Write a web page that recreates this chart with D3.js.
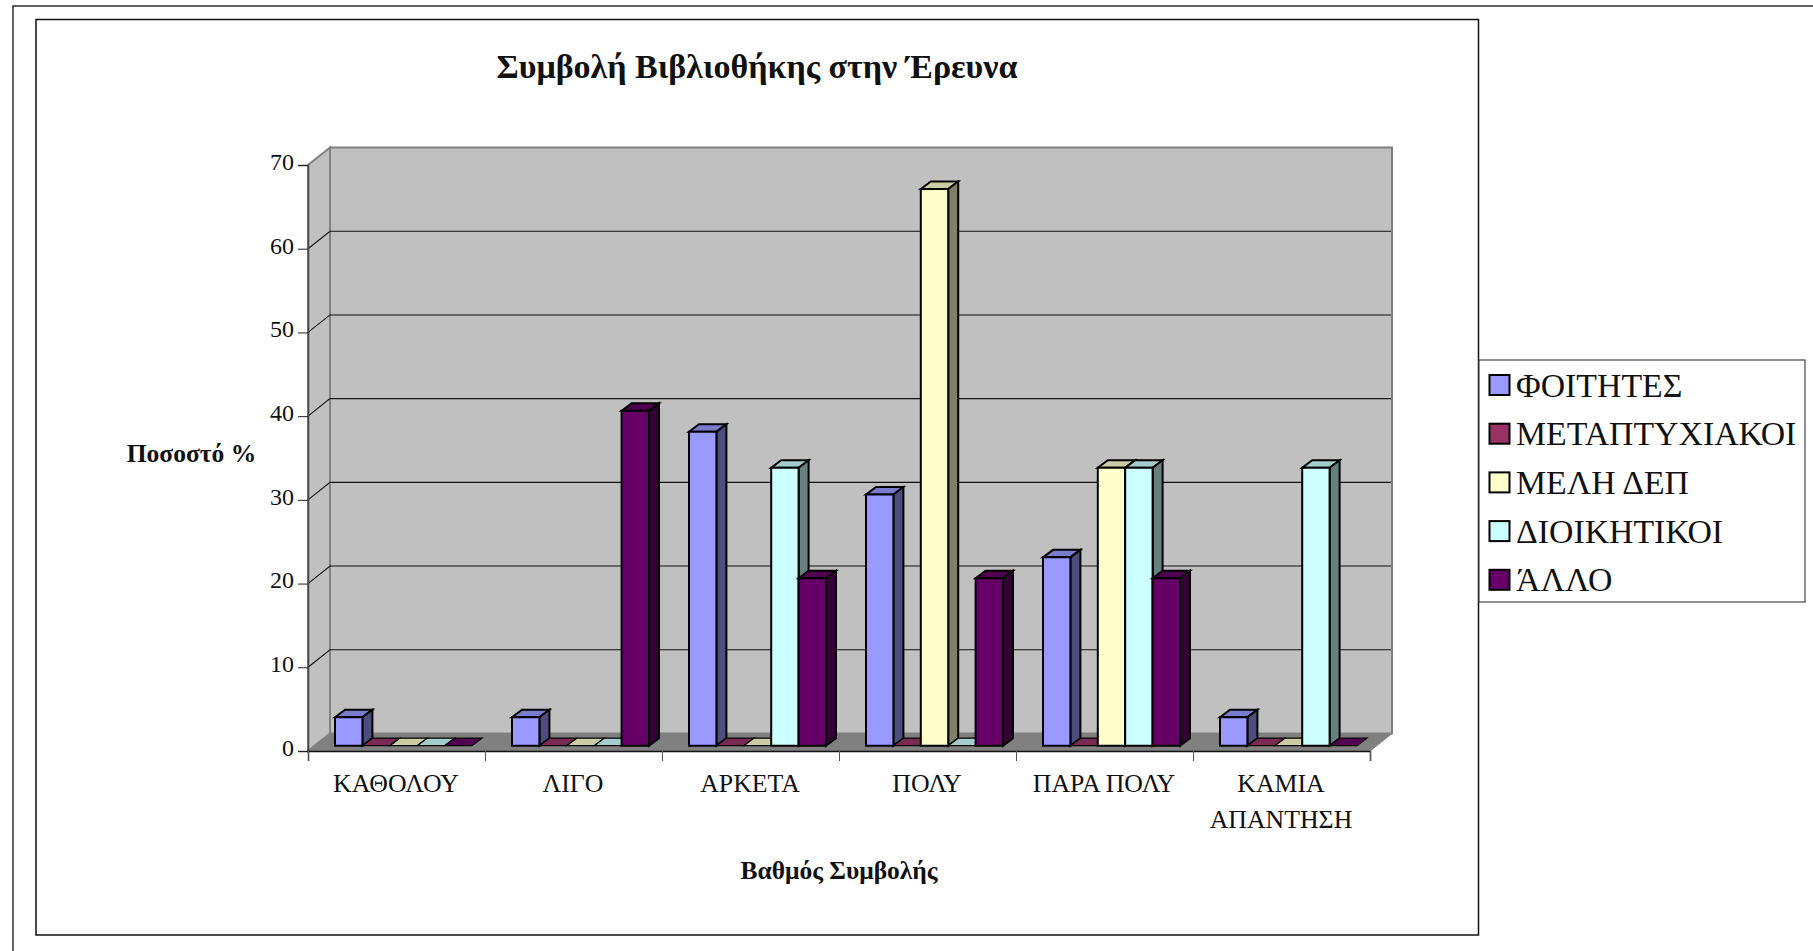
<!DOCTYPE html>
<html><head><meta charset="utf-8">
<script src="https://cdn.jsdelivr.net/npm/d3@7"></script>
<style>html,body{margin:0;padding:0;background:#fff}svg{display:block}text{font-family:"Liberation Serif",serif;fill:#111}</style>
</head><body><div id="c"></div>
<script>
const categories=[["ΚΑΘΟΛΟΥ"],["ΛΙΓΟ"],["ΑΡΚΕΤΑ"],["ΠΟΛΥ"],["ΠΑΡΑ ΠΟΛΥ"],["ΚΑΜΙΑ","ΑΠΑΝΤΗΣΗ"]];
const seriesNames=["ΦΟΙΤΗΤΕΣ","ΜΕΤΑΠΤΥΧΙΑΚΟΙ","ΜΕΛΗ ΔΕΠ","ΔΙΟΙΚΗΤΙΚΟΙ","ΆΛΛΟ"];
const foitites=[3.4,3.4,37.5,30,22.5,3.4];
const metaptyxiakoi=[0,0,0,0,0,0];
const meliDep=[0,0,0,66.5,33.2,0];
const dioikitikoi=[0,0,33.2,0,33.2,33.2];
const allo=[0,40,20,20,20,0];
const seriesValues=[foitites,metaptyxiakoi,meliDep,dioikitikoi,allo];
const colors=["#9999ff","#993366","#ffffcc","#ccffff","#660066"];
const topColors=["#7a7acc","#7a2952","#cccca3","#a3cccc","#520052"];
const sideColors=["#4d4d80","#4d1a33","#808066","#668080","#330033"];
const yTicks=[0,10,20,30,40,50,60,70];
const titleText="Συμβολή Βιβλιοθήκης στην Έρευνα",yTitle="Ποσοστό %",xTitle="Βαθμός Συμβολής";

const svg=d3.select("#c").append("svg").attr("width",1813).attr("height",951);
const L=308,R=1370,T=165,B=751,wx=22,wy=17.5,bx=7,by=5.3,dx=10,dy=7.5;
const y=d3.scaleLinear().domain([0,70]).range([B,T]);
const x0=d3.scaleBand().domain(d3.range(categories.length)).range([L,R]);
const x1=d3.scaleBand().domain(d3.range(seriesNames.length)).range([0,137]);
const inset=(x0.bandwidth()-137)/2;
const poly=(p,f,s,w)=>svg.append("polygon").attr("points",p.map(d=>d.join(",")).join(" ")).attr("fill",f).attr("stroke",s).attr("stroke-width",w).attr("stroke-linejoin","miter");

// frames
svg.append("rect").attr("x",13).attr("y",6).attr("width",1820).attr("height",960).attr("fill","#fff").attr("stroke","#111").attr("stroke-width",1.3);
svg.append("rect").attr("x",36).attr("y",19.5).attr("width",1442.5).attr("height",915.5).attr("fill","#fff").attr("stroke","#111").attr("stroke-width",1.5);

// walls and floor
poly([[L+wx,T-wy],[R+wx,T-wy],[R+wx,B-wy],[L+wx,B-wy]],"#c0c0c0","#808080",2);
poly([[L,T],[L+wx,T-wy],[L+wx,B-wy],[L,B]],"#c0c0c0","#808080",2);
poly([[L,B],[L+wx,B-wy],[R+wx,B-wy],[R,B]],"#808080","#808080",1);

// gridlines
yTicks.slice(1,-1).forEach(t=>{
  svg.append("path").attr("d",`M${L},${y(t)}L${L+wx},${y(t)-wy}L${R+wx-1},${y(t)-wy}`).attr("fill","none").attr("stroke","#111").attr("stroke-width",1.1);
});

// axes
const ya=d3.axisLeft(y).tickValues(yTicks).tickSize(10).tickPadding(4);
const gy=svg.append("g").attr("transform",`translate(${L},0)`).call(ya);
gy.select(".domain").attr("stroke","#444").attr("stroke-width",1.5);
gy.selectAll("line").attr("stroke","#222");
gy.selectAll("text").style("font-size","24px").attr("fill","#111").attr("dy","0.18em");
const xa=d3.axisBottom(d3.scaleLinear().domain([0,6]).range([L,R])).ticks(6).tickSize(10).tickFormat("");
const gx=svg.append("g").attr("transform",`translate(0,${B})`).call(xa);
gx.select(".domain").attr("stroke","#111").attr("stroke-width",1.5);
gx.selectAll("line").attr("stroke","#555");

// bars
categories.forEach((c,ci)=>{
  seriesValues.forEach((vals,si)=>{
    const v=vals[ci];
    const xl=x0(ci)+inset+bx+x1(si), xr=xl+x1.bandwidth(), yb=B-by, yt=y(v)-by;
    poly([[xl,yt],[xl+dx,yt-dy],[xr+dx,yt-dy],[xr,yt]],topColors[si],"#000",v>0?2:1.2);
    if(v>0){
      poly([[xr,yt],[xr+dx,yt-dy],[xr+dx,yb-dy],[xr,yb]],sideColors[si],"#000",2);
      poly([[xl,yt],[xr,yt],[xr,yb],[xl,yb]],colors[si],"#000",2);
    }
  });
});

// category labels
categories.forEach((c,ci)=>{
  c.forEach((s,k)=>svg.append("text").attr("x",x0(ci)+x0.bandwidth()/2-0.5).attr("y",792+k*36).attr("text-anchor","middle").style("font-size","25.8px").text(s));
});

// titles
svg.append("text").attr("x",757).attr("y",78).attr("text-anchor","middle").style("font-size","34px").style("font-weight","bold").text(titleText);
svg.append("text").attr("x",191.5).attr("y",462).attr("text-anchor","middle").style("font-size","25.5px").style("font-weight","bold").text(yTitle);
svg.append("text").attr("x",839).attr("y",879).attr("text-anchor","middle").style("font-size","25.5px").style("font-weight","bold").text(xTitle);

// legend
svg.append("rect").attr("x",1479).attr("y",360).attr("width",326).attr("height",242).attr("fill","#fff").attr("stroke","#444").attr("stroke-width",1.2);
seriesNames.forEach((s,i)=>{
  const cy=385+i*48.7;
  svg.append("rect").attr("x",1489.5).attr("y",cy-10).attr("width",20).attr("height",20).attr("fill",colors[i]).attr("stroke","#000").attr("stroke-width",2);
  svg.append("text").attr("x",1516).attr("y",cy+11.5).style("font-size","33.8px").text(s);
});
</script></body></html>
